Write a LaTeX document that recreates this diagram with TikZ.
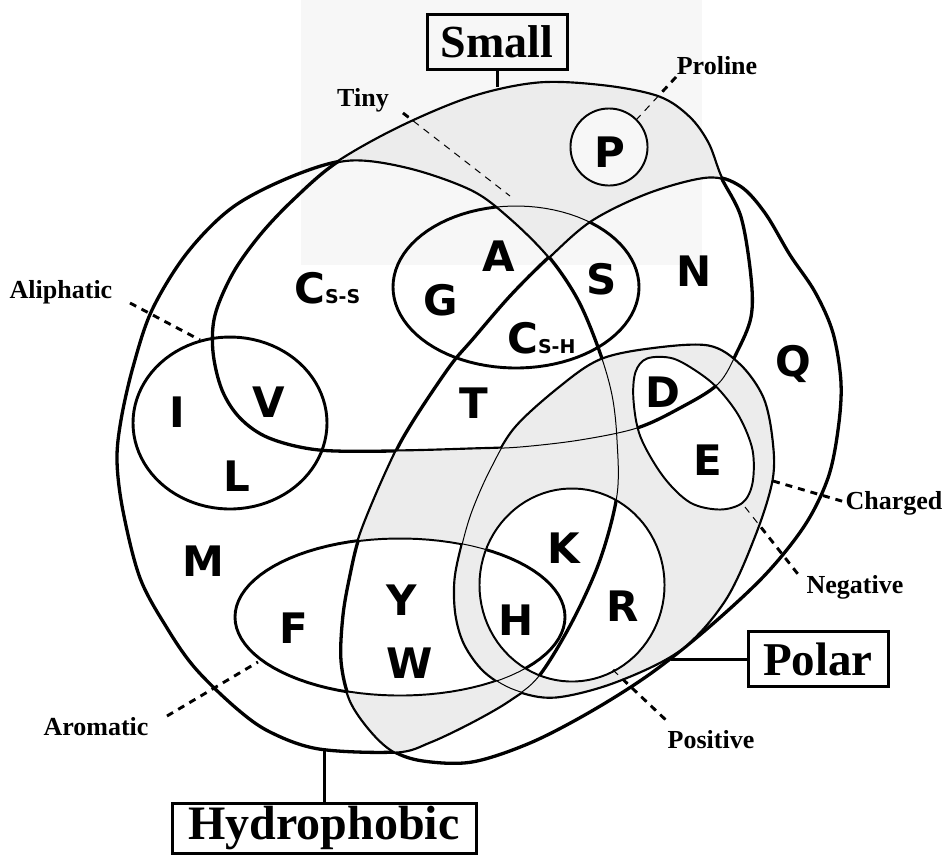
\documentclass[tikz,border=0pt]{standalone}
\usepackage{fontspec}
\setmainfont{Liberation Serif}
\newfontfamily\aafam{DejaVu Sans}
\definecolor{fillgray}{HTML}{ECECEC}
\definecolor{wmark}{HTML}{F7F7F7}
\def\POuter{(-20,-20) -- (-20,875) -- (964,875) -- (964,-20) -- cycle}
\def\PHyd{plot[smooth cycle, tension=0.55] coordinates {(293,176) (350,160) (410,168) (472,190) (510,218) (549,257) (578,300) (599,350) (612,395) (617,440) (617,495) (600,560) (572,622) (539,676) (510,700) (472,722) (430,742) (396,752) (319,749) (270,732) (236,708) (195,668) (167,628) (140,578) (123,511) (117,461) (121,420) (133,367) (152,310) (187,253) (233,207)}}
\def\PPolar{plot[smooth cycle, tension=0.55] coordinates {(472,340) (510,296) (549,257) (592,220) (650,192) (708,177) (740,186) (765,213) (790,255) (815,292) (833,333) (841,383) (838,430) (828,478) (805,525) (765,575) (708,628) (650,674) (590,712) (530,743) (472,762) (423,761) (393,751) (370,730) (350,700) (341,661) (343,615) (350,575) (359,538) (376,495) (396,451) (410,426) (430,395) (453,362)}}
\def\PSmall{plot[smooth cycle, tension=0.55] coordinates {(336,163) (400,127) (472,97) (539,83) (605,86) (659,97) (689,117) (708,143) (721,177) (741,217) (751,277) (751,317) (737,352) (718,384) (680,408) (637,428) (580,440) (520,447) (472,449) (396,451) (319,450) (269,438) (240,418) (222,390) (213,352) (215,315) (233,273) (260,235) (293,200)}}
\def\PChg{plot[smooth cycle, tension=0.55] coordinates {(515,428) (560,387) (600,360) (650,349) (708,346) (740,365) (763,398) (772,440) (772,480) (755,535) (725,600) (680,650) (615,682) (555,697) (515,690) (485,672) (465,645) (456,615) (455,580) (462,545) (472,511) (490,470)}}
\def\PNeg{plot[smooth cycle, tension=0.55] coordinates {(647,358) (673,358) (700,373) (720,390) (740,417) (753,450) (753,483) (743,503) (720,510) (690,503) (663,477) (640,437) (633,400) (635,372)}}
\def\PTiny{plot[domain=0:360, samples=91] ({516+123*cos(\x)},{287+81*sin(\x)}) -- cycle}
\def\PAli{plot[domain=0:360, samples=91] ({230+97*cos(\x)},{423+86*sin(\x)}) -- cycle}
\def\PArom{plot[domain=0:360, samples=91] ({400+165*cos(\x)},{617+79*sin(\x)}) -- cycle}
\def\PPos{plot[domain=0:360, samples=91] ({572+93*cos(\x)},{585+97*sin(\x)}) -- cycle}
\def\PPro{plot[domain=0:360, samples=73] ({609+39*cos(\x)},{147+39*sin(\x)}) -- cycle}
\tikzset{
  setline/.style={line width=3.3pt, line join=round},
  minorline/.style={line width=2.9pt, line join=round},
  hairline/.style={line width=1pt, line join=round},
  leader/.style={line width=2.9pt, dash pattern=on 7pt off 6pt},
  thinleader/.style={line width=1pt, dash pattern=on 7pt off 6pt},
  aa/.style={font=\aafam\bfseries\fontsize{42}{42}\selectfont, inner sep=0pt},
  tag/.style={font=\bfseries\fontsize{26}{26}\selectfont, inner sep=0pt},
  setbox/.style={draw, line width=3pt, inner sep=0pt},
  conn/.style={line width=3pt}
}
\begin{document}
\begin{tikzpicture}[x=1pt,y=-1pt]
\useasboundingbox (0,0) rectangle (944,855);
\fill[white] (0,0) rectangle (944,855);
\fill[wmark] (301,0) rectangle (702,265);
% thick outlines
\draw[setline] \PHyd;
\draw[setline] \PPolar;
\draw[setline] \PSmall;
\draw[setline] \PChg;
\draw[minorline] \PTiny;
\draw[minorline] \PAli;
\draw[minorline] \PArom;
\draw[minorline] \PPos;
\draw[minorline] \PNeg;
\draw[minorline] \PPro;
% leader end points
\coordinate (tinyA) at (403,113);
\coordinate (tinyB) at (510,196);
\coordinate (proA) at (676,77);
\coordinate (proB) at (637,119);
\coordinate (aliA) at (130,303);
\coordinate (aliB) at (200,340);
\coordinate (aroA) at (167,716);
\coordinate (aroB) at (258,662);
\coordinate (chgA) at (773,481);
\coordinate (chgB) at (845,502);
\coordinate (negA) at (745,507);
\coordinate (negB) at (801,578);
\coordinate (posA) at (613,670);
\coordinate (posB) at (668,722);
\draw[leader] (tinyA) -- (tinyB);
\draw[leader] (proA) -- (proB);
\draw[leader] (aliA) -- (aliB);
\draw[leader] (aroA) -- (aroB);
\draw[leader] (chgA) -- (chgB);
\draw[leader] (negA) -- (negB);
\draw[leader] (posA) -- (posB);
% gray (empty) regions
\begin{scope}
  \clip \PSmall;
  \clip \POuter \PHyd;
  \clip \POuter \PPolar;
  \clip \POuter \PPro;
  \fill[fillgray] (0,0) rectangle (944,855);
\end{scope}
\begin{scope}
  \clip \PChg;
  \clip \POuter \PPos;
  \clip \POuter \PNeg;
  \fill[fillgray] (0,0) rectangle (944,855);
\end{scope}
\begin{scope}
  \clip \PHyd;
  \clip \PPolar;
  \clip \POuter \PSmall;
  \clip \POuter \PArom;
  \clip \POuter \PChg;
  \fill[fillgray] (0,0) rectangle (944,855);
\end{scope}
% thin redraw
\draw[hairline] \PHyd;
\draw[hairline] \PPolar;
\draw[hairline] \PSmall;
\draw[hairline] \PChg;
\draw[hairline] \PTiny;
\draw[hairline] \PAli;
\draw[hairline] \PArom;
\draw[hairline] \PPos;
\draw[hairline] \PNeg;
\draw[hairline] \PPro;
\draw[thinleader] (tinyA) -- (tinyB);
\draw[thinleader] (proA) -- (proB);
\draw[thinleader] (negA) -- (negB);
\draw[thinleader] (posA) -- (posB);
% boxes and connectors
\node[setbox, minimum width=140pt, minimum height=55pt, font=\bfseries\fontsize{46}{46}\selectfont] (smallbox) at (497,42) {Small};
\node[setbox, minimum width=140pt, minimum height=55pt, font=\bfseries\fontsize{47}{47}\selectfont] (polarbox) at (818,659) {Polar};
\node[setbox, minimum width=304pt, minimum height=50pt, font=\bfseries\fontsize{48}{48}\selectfont] (hydbox) at (324,828) {Hydrophobic};
\coordinate (smalltop) at (497,87);
\coordinate (polaredge) at (671,659);
\coordinate (hydbot) at (324,750);
\draw[conn] (smallbox.south) -- (smalltop);
\draw[conn] (polarbox.west) -- (polaredge);
\draw[conn] (hydbox.north) -- (hydbot);
% small labels
\node[tag] (ltiny) at (363,100) {Tiny};
\node[tag] (lpro) at (717,66) {Proline};
\node[tag] (lali) at (61,292) {Aliphatic};
\node[tag] (lchg) at (894,503) {Charged};
\node[tag] (lneg) at (855,587) {Negative};
\node[tag] (lpos) at (711,740) {Positive};
\node[tag] (larom) at (96,727) {Aromatic};
% amino acids
\node[aa, anchor=base] (nP) at (610,167) {P};
\node[aa, anchor=base] (nA) at (499,271) {A};
\node[aa, anchor=base] (nG) at (441,315) {G};
\node[aa, anchor=base] (nS) at (602,294) {S};
\node[aa, anchor=base] (nN) at (694,286) {N};
\node[aa, anchor=base] (nQ) at (793,376) {Q};
\node[aa, anchor=base] (nT) at (474,418) {T};
\node[aa, anchor=base] (nI) at (177,427) {I};
\node[aa, anchor=base] (nV) at (269,417) {V};
\node[aa, anchor=base] (nD) at (663,407) {D};
\node[aa, anchor=base] (nE) at (708,475) {E};
\node[aa, anchor=base] (nL) at (237,491) {L};
\node[aa, anchor=base] (nM) at (203,576) {M};
\node[aa, anchor=base] (nF) at (294,643) {F};
\node[aa, anchor=base] (nY) at (402,615) {Y};
\node[aa, anchor=base] (nW) at (410,678) {W};
\node[aa, anchor=base] (nH) at (516,635) {H};
\node[aa, anchor=base] (nK) at (564,563) {K};
\node[aa, anchor=base] (nR) at (623,621) {R};
\node[aa, anchor=base west] (nCss) at (294,303) {C{\fontsize{19}{19}\selectfont S-S}};
\node[aa, anchor=base west] (nCsh) at (507,353) {C{\fontsize{19}{19}\selectfont S-H}};
\end{tikzpicture}
\end{document}
